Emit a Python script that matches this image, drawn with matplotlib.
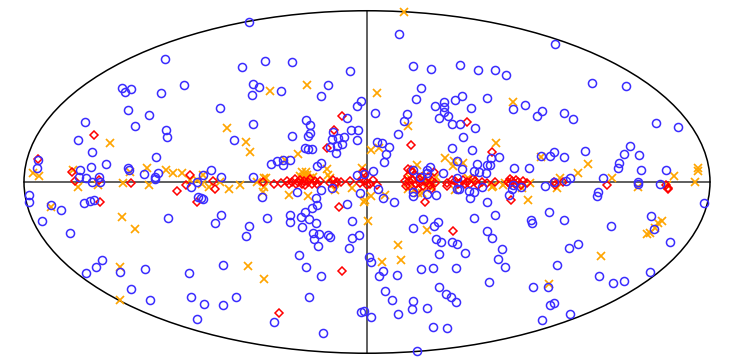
"""All-sky source map in an equal-area ellipse, three source classes."""
import matplotlib
matplotlib.use("Agg")
import matplotlib.pyplot as plt
from matplotlib.patches import Ellipse

# positions (left/right, top/down)
blue = [(165,59),(242,67),(184,85),(122,88),(125,92),(131,89),(161,93),(220,108),(128,110),(149,115),
    (85,122),(135,126),(166,130),(167,137),(78,140),(234,140),(92,152),(156,157),(38,160),(37,168),
    (91,167),(106,164),(128,168),(129,170),(80,170),(144,174),(158,173),(155,177),(155,179),(211,170),(203,175),(221,177),
    (79,177),(86,178),(99,177),(100,182),(92,182),(197,182),(191,187),(253,177),
    (249,22),(265,61),(292,62),(350,71),(253,84),(259,87),(281,91),(252,95),(328,85),(321,96),
    (361,101),(357,106),(375,113),(347,118),(306,120),(310,125),(253,124),(310,133),(308,136),(292,136),
    (333,132),(351,130),(358,130),(357,140),(344,137),(338,138),(332,139),(342,144),(337,146),(330,147),
    (336,153),(305,148),(308,149),(312,149),(377,142),(382,143),(389,147),(386,154),(384,162),(271,164),
    (277,161),(283,160),(283,165),(290,160),(321,163),(317,166),(357,175),(373,171),(364,174),
    (399,34),(413,66),(431,69),(460,65),(478,70),(495,70),(421,88),(416,99),(462,96),(455,100),
    (487,98),(444,102),(435,106),(444,107),(471,108),(444,112),(448,116),(439,118),(407,114),(404,121),
    (452,124),(460,124),(475,128),(398,134),(463,137),(452,148),(472,150),(457,161),(491,158),(477,164),
    (487,165),(462,169),(474,171),(479,172),(486,173),(430,167),(427,170),(427,173),(413,170),(443,173),
    (457,178),(420,177),(555,44),(506,75),(592,83),(626,86),(525,105),(513,109),(542,111),(537,116),
    (564,113),(573,119),(656,123),(678,127),(630,146),(624,154),(639,155),(585,151),(554,152),(550,156),
    (541,156),(564,157),(499,157),(619,163),(618,168),(641,170),(666,170),(514,168),(529,168),(603,178),
    (570,178),(566,181),(554,182),(490,165),
    (29,195),(29,202),(51,205),(61,210),(42,221),(70,233),(84,203),(90,201),(94,200),(168,218),
    (198,197),(201,198),(203,199),(221,215),(215,223),(249,226),(246,236),(102,260),(96,267),(86,273),
    (120,272),(145,269),(189,273),(223,265),(131,289),(150,300),(191,297),(204,304),(223,305),(236,297),
    (197,319),(262,197),(297,192),(321,190),(332,188),(316,198),(317,205),(312,208),(305,212),(301,217),
    (290,215),(290,222),(267,218),(309,219),(316,223),(302,227),(313,233),(319,234),(314,239),(328,235),
    (330,237),(318,246),(347,204),(352,221),(359,235),(352,238),(349,248),(299,255),(306,267),(321,276),
    (309,297),(274,322),(323,333),(360,193),(369,257),(371,262),(361,312),(364,311),(371,317),
    (378,189),(383,198),(394,202),(413,192),(413,196),(427,194),(436,195),(457,189),(459,189),(469,191),
    (474,192),(482,187),(470,198),(487,202),(495,215),(474,218),(423,219),(413,228),(434,226),(438,222),
    (487,231),(492,238),(436,239),(441,242),(452,242),(457,244),(465,253),(439,254),(383,271),(379,276),
    (397,275),(421,269),(433,268),(456,268),(489,282),(439,287),(446,294),(451,297),(456,302),(385,291),
    (392,300),(413,301),(412,309),(427,308),(398,314),(433,327),(447,328),(417,351),
    (531,220),(532,223),(549,212),(564,220),(611,226),(651,216),(654,229),(670,242),(704,203),(509,195),
    (512,189),(521,187),(545,186),(598,192),(597,196),(660,184),(638,182),(638,184),(502,249),(498,259),
    (505,267),(569,248),(578,244),(557,265),(599,276),(613,283),(624,281),(650,272),(533,287),(548,287),
    (554,303),(550,305),(570,314),(542,320),(513,185)]

red = [(94,135),(38,159),(72,172),(75,181),(99,180),(131,183),(100,202),(190,175),(186,185),(177,191),
    (213,181),(215,189),(197,202),(342,116),(334,130),(327,148),(467,122),(411,145),(408,169),(434,172),
    (492,152),(363,172),(339,207),(342,271),(279,313),(425,202),(453,231),(447,186),(511,200),(607,185),
    (666,185),(668,188),(668,189),(554,182),(555,185),(563,182),(263,182),(274,184),(281,183),(287,181),
    (289,184),(292,182),(295,179),(296,184),(298,182),(300,180),(302,184),(304,181),(305,185),(308,182),
    (310,179),(312,184),(315,181),(317,184),(320,181),(330,183),(333,180),(335,184),(337,182),(341,182),
    (350,181),(360,183),(362,179),(365,173),(365,181),(367,185),(370,184),(373,180),(377,185),
    (405,181),(406,186),(408,176),(409,181),(410,186),(412,172),(413,180),(415,175),(416,184),(418,189),
    (419,179),(420,183),(422,177),(423,186),(424,181),(426,182),(428,177),(430,185),(431,189),(432,181),
    (435,183),(411,170),(447,183),(452,180),(455,181),(458,184),(460,183),(463,180),(465,184),(467,182),
    (470,184),(473,179),(475,181),(478,185),(482,182),(487,183),(495,182),(508,182),(510,179),(512,181),
    (515,184),(516,180),(518,182),(521,185),(523,181),(527,183),(510,184)]

orange = [(110,143),(227,128),(246,142),(250,152),(33,173),(39,176),(73,170),(130,172),(147,168),(166,170),
    (173,173),(182,173),(404,12),(307,85),(270,91),(377,93),(408,126),(298,154),(285,160),(327,169),
    (371,150),(379,148),(445,158),(453,166),(463,163),(417,165),(266,178),(362,168),(328,175),(307,175),
    (303,177),(310,178),(300,176),(302,172),(306,172),(313,177),(513,102),(496,143),(588,164),(578,173),
    (541,157),(612,178),(674,176),(698,168),(698,171),(695,182),(560,178),(78,187),(51,207),(122,217),
    (135,229),(120,267),(120,300),(123,183),(149,185),(209,187),(229,189),(240,185),(202,184),(248,266),
    (264,187),(289,195),(308,196),(352,188),(364,202),(371,196),(385,195),(368,221),(264,279),(382,262),
    (398,245),(401,260),(427,230),(408,189),(422,193),(455,190),(492,187),(335,190),(528,200),(557,188),
    (601,256),(549,284),(638,187),(662,221),(658,223),(655,228),(650,233),(647,234),(667,185),(493,186),
    (503,185),(522,188),(530,183),(190,180),(197,180),(203,175),(220,182),(257,182),(263,192),(98,185),
    (264,178),(305,175),(330,178),(365,200),(454,161),(418,193),(468,178),(473,180),(505,183),(428,183),
    (410,178),(414,190),(408,180),(420,175),(432,188),(436,177)]

fig = plt.figure(figsize=(7.36, 3.63), dpi=100)
ax = fig.add_axes([0, 0, 1, 1])
ax.set_xlim(0, 736)
ax.set_ylim(363, 0)
ax.axis("off")

ax.plot([24, 710], [182, 182], color="#333333", lw=1.1, zorder=1)
ax.plot([367, 367], [10.5, 353], color="#444444", lw=1.2, zorder=1)
ax.add_patch(Ellipse((367, 182), 686, 342.5, fill=False, ec="black", lw=1.1, zorder=1))

ax.plot(*zip(*orange), ls="none", marker="x", ms=6.4, mew=1.25, color="#ffa500", zorder=2, clip_on=False)
ax.plot(*zip(*red), ls="none", marker="D", ms=4.2, mew=1.1, mfc="none", color="#ff0000", zorder=3)
ax.plot(*zip(*blue), ls="none", marker="o", ms=5.8, mew=1.1, mfc="none", color="#3a2cff", zorder=4)

fig.savefig("out.png", dpi=100)
